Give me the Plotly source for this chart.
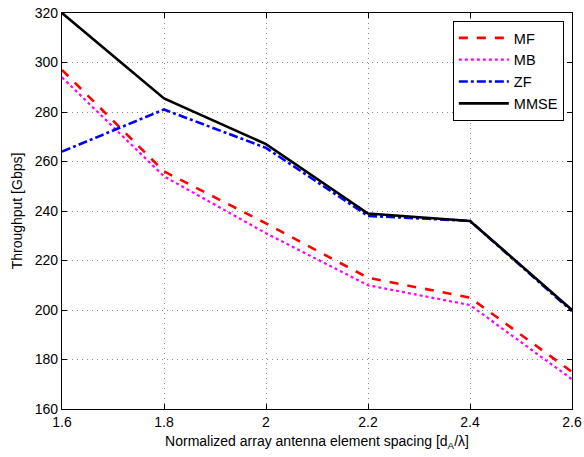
import plotly.graph_objects as go

x = [1.6, 1.8, 2.0, 2.2, 2.4, 2.6]
mf = [297, 256, 235, 213, 205, 175]
mb = [294, 254, 231, 210, 202, 172]
zf = [264, 281, 265.5, 238, 236, 199.5]
mmse = [320, 285.5, 267, 239, 236, 200]

series = [
    ("MF", mf, "#FF0000", "dash", 2.6),
    ("MB", mb, "#FF00FF", "dot", 2.2),
    ("ZF", zf, "#0000FF", "dashdot", 2.6),
    ("MMSE", mmse, "#000000", "solid", 2.6),
]

fig = go.Figure()
for name, y, c, d, w in series:
    fig.add_trace(go.Scatter(x=x, y=y, mode="lines", name=name,
                             line=dict(color=c, dash=d, width=w)))

axis_common = dict(showline=True, linecolor="black", linewidth=1.2, mirror="allticks",
                   ticks="inside", ticklen=5, tickcolor="black", automargin=False,
                   showgrid=True, gridcolor="#8a8a8a", griddash="1px,4px", gridwidth=1,
                   zeroline=False, tickfont=dict(size=14, color="black"))

fig.update_xaxes(range=[1.6, 2.6], dtick=0.2, tickformat="~g",
                 title=dict(text="Normalized array antenna element spacing [d<sub>A</sub>/λ]",
                            font=dict(size=14, color="black"), standoff=7),
                 **axis_common)
fig.update_yaxes(range=[160, 320], dtick=20,
                 title=dict(text="Throughput [Gbps]", font=dict(size=14, color="black"), standoff=8),
                 **axis_common)

fig.update_layout(
    width=584, height=457,
    margin=dict(l=62, r=12, t=13, b=48),
    paper_bgcolor="white", plot_bgcolor="white",
    font=dict(family="Liberation Sans, Arial, sans-serif", size=14, color="black"),
    legend=dict(x=0.984, y=0.98, xanchor="right", yanchor="top",
                bordercolor="black", borderwidth=1, bgcolor="white",
                font=dict(size=14.5), tracegroupgap=0, itemwidth=50),
    showlegend=True,
)

fig.write_html("out.html")
